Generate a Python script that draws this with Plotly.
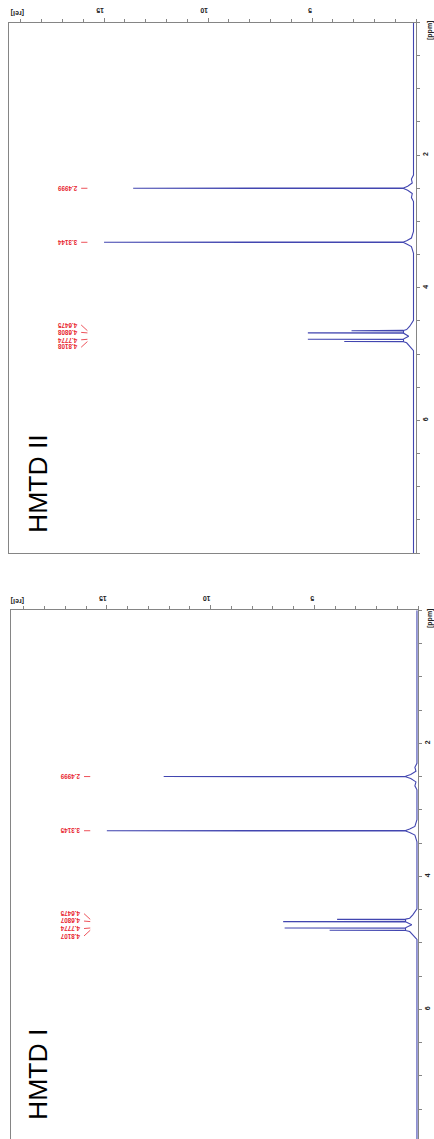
import plotly.graph_objects as go

W, H = 434, 1139

# ---- HMTD II (upper spectrum) ----
peaks_ppm_ii = [2.4999, 3.3144, 4.6475, 4.6808, 4.7774, 4.8108]
peaks_rel_ii = [13.6, 15.0, 3.1, 5.2, 5.2, 3.45]
base_ppm_ii = [0.0, 2.30, 2.36, 2.42, 2.47, 2.53, 2.58, 2.64, 2.70,
               3.15, 3.25, 3.29, 3.34, 3.38, 3.48,
               4.49, 4.58, 4.63, 4.73, 4.83, 4.88, 4.95, 8.0]
base_rel_ii = [0.12, 0.12, 0.22, 0.18, 0.40, 0.40, 0.18, 0.22, 0.12,
               0.12, 0.22, 0.45, 0.45, 0.22, 0.12,
               0.12, 0.30, 0.45, 0.35, 0.45, 0.30, 0.12, 0.12]

# ---- HMTD I (lower spectrum) ----
peaks_ppm_i = [2.4999, 3.3145, 4.6475, 4.6807, 4.7774, 4.8107]
peaks_rel_i = [12.26, 15.0, 3.9, 6.5, 6.43, 4.26]
base_ppm_i = [0.0, 2.30, 2.36, 2.42, 2.47, 2.53, 2.58, 2.64, 2.70,
              3.15, 3.25, 3.29, 3.34, 3.38, 3.48,
              4.49, 4.58, 4.63, 4.73, 4.83, 4.88, 4.95, 7.95]
base_rel_i = [0.05, 0.05, 0.15, 0.10, 0.35, 0.35, 0.10, 0.15, 0.05,
              0.05, 0.15, 0.40, 0.40, 0.15, 0.05,
              0.05, 0.25, 0.40, 0.30, 0.40, 0.25, 0.05, 0.05]

titles = ["HMTD II", "HMTD I"]
rel_ticks = [5, 10, 15]
ppm_ticks = [2, 4, 6]

LINE_BLUE = "rgb(66,70,176)"
LABEL_RED = "rgb(232,38,48)"
AXIS_GREY = "#858585"
FOOT_W = 0.004      # half-width of a peak's foot, ppm
FOOT_REL = 0.6
LABEL_GAP = 0.112   # spacing of stacked multiplet labels, ppm


def spectrum(base_ppm, base_rel, pk_ppm, pk_rel):
    pts = list(zip(base_ppm, base_rel))
    for p, h in zip(pk_ppm, pk_rel):
        pts += [(p - FOOT_W, FOOT_REL), (p, h), (p + FOOT_W, FOOT_REL)]
    pts.sort(key=lambda t: t[0])
    return [t[0] for t in pts], [t[1] for t in pts]


def label_positions(pk_ppm):
    # singlets labelled in place; the four-line multiplet labels fanned out
    single = list(pk_ppm[:2])
    quad = pk_ppm[2:]
    mid = sum(quad) / len(quad)
    fanned = [mid + (k - 1.5) * LABEL_GAP for k in range(len(quad))]
    return single + fanned


fig = go.Figure()
annotations = []
shapes = []

panels = [
    dict(base=(base_ppm_ii, base_rel_ii), peaks=(peaks_ppm_ii, peaks_rel_ii),
         xa="x", ya="y", title=titles[0], title_y=484, rel_label_y=13),
    dict(base=(base_ppm_i, base_rel_i), peaks=(peaks_ppm_i, peaks_rel_i),
         xa="x2", ya="y2", title=titles[1], title_y=1075, rel_label_y=601),
]

for pnl in panels:
    xs, ys = spectrum(pnl["base"][0], pnl["base"][1], pnl["peaks"][0], pnl["peaks"][1])
    fig.add_trace(go.Scatter(x=ys, y=xs, mode="lines", xaxis=pnl["xa"], yaxis=pnl["ya"],
                             line=dict(color=LINE_BLUE, width=1.1), showlegend=False,
                             hoverinfo="skip"))
    pk_ppm = pnl["peaks"][0]
    for p, ly in zip(pk_ppm, label_positions(pk_ppm)):
        annotations.append(dict(x=16.75, y=ly, xref=pnl["xa"], yref=pnl["ya"],
                                text=f"{p:.4f}", showarrow=False, textangle=180,
                                xanchor="center", yanchor="middle", borderpad=0,
                                font=dict(family="Liberation Sans, Arial", size=6.3,
                                          color=LABEL_RED, weight="bold")))
        shapes.append(dict(type="line", xref=pnl["xa"], yref=pnl["ya"],
                           x0=16.1, y0=ly, x1=15.8, y1=p,
                           line=dict(color=LABEL_RED, width=0.8)))
    annotations.append(dict(x=38 / W, y=1 - pnl["title_y"] / H, xref="paper", yref="paper",
                            text=pnl["title"], showarrow=False, textangle=-90,
                            xanchor="center", yanchor="middle",
                            font=dict(family="Liberation Sans, Arial", size=26.5, color="black")))
    annotations.append(dict(x=18 / W, y=1 - pnl["rel_label_y"] / H, xref="paper", yref="paper",
                            text="[rel]", showarrow=False, textangle=180,
                            xanchor="center", yanchor="middle",
                            font=dict(family="Liberation Sans, Arial", size=7, color="#222",
                                      weight="bold")))
    annotations.append(dict(x=430 / W, y=1 - (pnl["rel_label_y"] + 18) / H, xref="paper",
                            yref="paper", text="[ppm]", showarrow=False, textangle=-90,
                            xanchor="center", yanchor="middle",
                            font=dict(family="Liberation Sans, Arial", size=7, color="#222",
                                      weight="bold")))

tickfont = dict(family="Liberation Sans, Arial", size=7, color="#222", weight="bold")


def rel_axis(domain, rng, anchor, mirror):
    return dict(domain=domain, range=rng, side="top", anchor=anchor,
                showline=True, linecolor=AXIS_GREY, linewidth=1, mirror=mirror,
                showgrid=False, zeroline=False, ticks="outside", ticklen=4,
                tickcolor=AXIS_GREY, tickvals=rel_ticks, tickangle=180, tickfont=tickfont,
                minor=dict(dtick=1, tick0=0, ticks="outside", ticklen=3, tickcolor=AXIS_GREY,
                           showgrid=False))


def ppm_axis(domain, rng, anchor):
    return dict(domain=domain, range=rng, side="right", anchor=anchor,
                showline=True, linecolor=AXIS_GREY, linewidth=1, mirror=True,
                showgrid=False, zeroline=False, ticks="outside", ticklen=3,
                tickcolor=AXIS_GREY, tickvals=ppm_ticks, tickangle=-90, tickfont=tickfont,
                minor=dict(dtick=0.5, tick0=0, ticks="outside", ticklen=3,
                           tickcolor=AXIS_GREY, showgrid=False))


fig.update_layout(
    width=W, height=H, margin=dict(l=0, r=0, t=0, b=0),
    paper_bgcolor="white", plot_bgcolor="white",
    xaxis=rel_axis([9 / W, 416 / W], [19.57, 0], "y", True),
    yaxis=ppm_axis([1 - 553 / H, 1 - 22.5 / H], [8, 0], "x"),
    xaxis2=rel_axis([11 / W, 418 / W], [19.62, 0], "y2", False),
    yaxis2=ppm_axis([0, 1 - 610.3 / H], [7.95, 0], "x2"),
    annotations=annotations, shapes=shapes,
)

fig.write_html("out.html")
